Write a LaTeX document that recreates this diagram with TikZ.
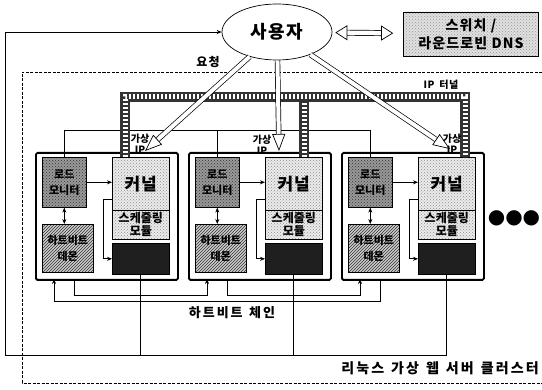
\documentclass[tikz,border=0pt]{standalone}
\usepackage{fontspec}
\setmainfont{Noto Sans CJK KR}
\newfontfamily\symfont{DejaVu Sans}
\usetikzlibrary{shapes.geometric,arrows.meta,patterns,calc}
\newcommand\krfont[2]{\bfseries\fontsize{#1}{#1}\selectfont\addfontfeatures{LetterSpace=#2}\spaceskip=.5em\relax}
\tikzset{
  cnode/.style={draw,line width=1.8pt,rounded corners=1.5pt,anchor=north west,minimum width=142,minimum height=127},
  lmbox/.style={draw,line width=0.6pt,anchor=north west,minimum width=44,minimum height=50,inner sep=0pt,
    preaction={fill=black!40},pattern=crosshatch dots,pattern color=black!80,align=center,font=\bfseries\fontsize{11}{16}\selectfont},
  hbbox/.style={draw,line width=0.6pt,anchor=north west,minimum width=51,minimum height=48,inner sep=0pt,
    preaction={fill=black!20},pattern=north east lines,pattern color=black!80,align=center,font=\bfseries\fontsize{11}{16}\selectfont},
  krnbox/.style={draw,line width=0.6pt,anchor=north west,minimum width=57,inner sep=0pt,
    preaction={fill=black!8},pattern=crosshatch dots,pattern color=black!45,align=center},
  blkbox/.style={draw,line width=0.6pt,anchor=north west,minimum width=57,minimum height=31,fill=black!88},
  hollow/.style={double,double distance=4pt,line width=0.7pt,-{Triangle[open,length=17pt,width=13pt]}},
  tunnel/.style={line width=10pt,draw=black!80,line join=miter,postaction={draw=white,line width=5pt,dash pattern=on 2pt off 2pt}},
  lbl/.style={font=\bfseries\fontsize{10}{11}\selectfont,inner sep=0pt,align=center},
}
\begin{document}
\begin{tikzpicture}[x=1pt,y=-1pt,>={Stealth[length=5pt,width=4pt]},line width=0.7pt]
\useasboundingbox (0,0) rectangle (542,390);
\draw[dash pattern=on 3pt off 1.5pt,line width=0.9pt] (542,72) -- (22,72) -- (22,383) -- (542,383);
\node[draw,ellipse,minimum width=110,minimum height=56,font=\krfont{18}{8}] (user) at (277,32) {사용자};
\node[draw,minimum width=135,minimum height=44,inner sep=0pt,preaction={fill=black!12},pattern=crosshatch dots,pattern color=black!40,
  align=center,font=\bfseries\fontsize{14}{18}\selectfont\addfontfeatures{LetterSpace=8}] (dns) at (471,34) {스위치 /\\라운드로빈 DNS};
\foreach \i/\x in {1/35,2/188,3/341}{
  \node[cnode] (box\i) at (\x,152) {};
  \node[lmbox] (lm\i) at (\x+7,157) {로드\\모니터};
  \node[hbbox] (hb\i) at (\x+7,224) {하트비트\\데몬};
  \node[krnbox,minimum height=53,font=\krfont{17}{5}] (krn\i) at (\x+77,157) {커널};
  \node[krnbox,minimum height=29,font=\bfseries\fontsize{12}{13}\selectfont] (sch\i) at (\x+77,210) {스케줄링\\모듈};
  \node[blkbox] (blk\i) at (\x+77,243) {};
  \draw[->] (lm\i.east) -- (lm\i.east -| krn\i.west);
  \draw[<->] (lm\i.south) -- (lm\i.south |- hb\i.north);
  \draw[->] ($(krn\i.south west)+(0,-11)$) -- ++(-9,0) |- (blk\i.west);
  \coordinate (hin\i) at (\x+19,279);
  \coordinate (hout\i) at (\x+39,279);
}
\coordinate (ctl) at (0,130);
\coordinate (resp) at (5,355);
\coordinate (tun) at (0,97);
\coordinate (t1) at (125,157);
\coordinate (t2) at (304,157);
\coordinate (t3) at (465,157);
\coordinate (vip1) at (145,151);
\coordinate (vip2) at (279,151);
\coordinate (vip3) at (450,149);
\draw (lm1.north) |- (lm3.north |- ctl) -- (lm3.north);
\draw (lm2.north) -- (lm2.north |- ctl);
\draw[tunnel] (t2) -- (t2 |- tun);
\draw[tunnel] (t1) |- (t3 |- tun) -- (t3);
\draw[->] (hout1) -- ++(0,16) -| (hin2);
\draw[->] (hout2) -- ++(0,16) -| (hin3);
\draw[->] (hout3) -- ++(0,22) -| (hin1);
\draw (blk1.south) -- (blk1.south |- resp);
\draw (blk2.south) -- (blk2.south |- resp);
\draw[->] (blk3.south) -- (blk3.south |- resp) -- (resp) |- (user.west);
\draw[hollow] (user) -- (vip1);
\draw[hollow] (user) -- (vip2);
\draw[hollow] (user) -- (vip3);
\draw[double,double distance=4.5pt,line width=0.7pt,shorten >=10pt,shorten <=3pt,
  {Triangle[open,length=12pt,width=15pt]}-{Triangle[open,length=12pt,width=15pt]}] (user) -- (dns);
\node[lbl] (vl1) at (140,144) {가상\\IP};
\node[lbl] (vl2) at (262,145) {가상\\IP};
\node[lbl] (vl3) at (452,144) {가상\\IP};
\node[lbl,font=\krfont{10}{5}] (tl) at (441,85) {IP 터널};
\node[lbl,font=\krfont{12}{10}] (req) at (208,62) {요청};
\node[lbl,font=\krfont{13}{15}] (hbc) at (232,313) {하트비트 체인};
\node[lbl,font=\krfont{14}{15},anchor=east] (clu) at (539,368) {리눅스 가상 웹 서버 클러스터};
\node[font=\symfont\fontsize{20}{20}\selectfont,inner sep=0pt] (more) at (514,218) {●●●};
\end{tikzpicture}
\end{document}
